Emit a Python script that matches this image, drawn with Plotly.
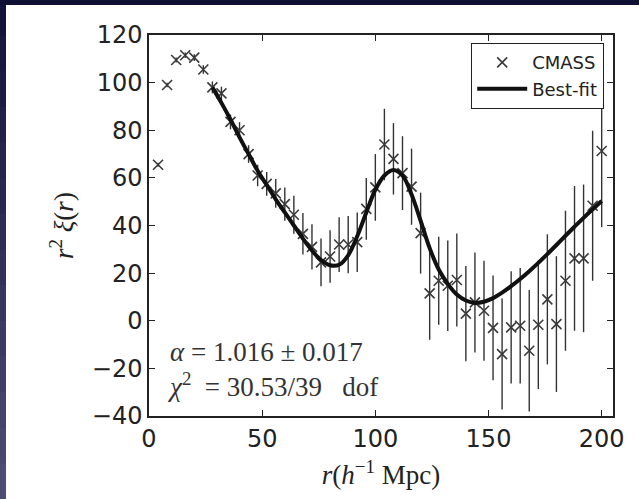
import plotly.graph_objects as go

# ---- data ----
r = [4, 8, 12, 16, 20, 24, 28, 32, 36, 40, 44, 48, 52, 56, 60, 64, 68, 72, 76, 80,
     84, 88, 92, 96, 100, 104, 108, 112, 116, 120, 124, 128, 132, 136, 140, 144, 148,
     152, 156, 160, 164, 168, 172, 176, 180, 184, 188, 192, 196, 200]
xi_r2 = [65.5, 99, 109.5, 111.5, 110.5, 105.5, 98, 95.5, 83.5, 80, 70, 61, 57.5, 53.5,
         49, 44.5, 36.5, 31, 24.5, 27, 32, 32, 33, 47, 56, 74, 68, 62, 56.3, 36.8,
         11.5, 16.8, 14.7, 17.1, 3, 7.7, 4.2, -3, -14, -2.8, -2.1, -12.6, -1.7, 9,
         -1.4, 16.8, 26.2, 26.2, 48.3, 71.3]
err = [0.8, 0.9, 1.0, 1.2, 1.4, 1.8, 2.5, 2.8, 3.1, 3.4, 3.7, 4.5, 5, 6, 7, 8, 8.7,
       9.5, 10, 11, 11.5, 12, 12.5, 13, 14, 15, 15, 15.5, 16, 17, 19.5, 18.5, 19,
       19.5, 20, 21, 21, 22, 23.3, 23.6, 24.3, 25.5, 27, 27.3, 28.5, 29.4, 30.4, 31,
       31.5, 32]

fit_r = [28, 32, 36, 40, 44, 48, 52, 56, 60, 64, 68, 72, 76, 80, 84, 88, 92, 96, 100,
         104, 108, 112, 116, 120, 124, 128, 132, 136, 140, 144, 148, 152, 156, 160,
         164, 168, 172, 176, 180, 184, 188, 192, 196, 200]
fit_y = [98, 91.5, 84.5, 77, 70, 63, 57, 51, 45.5, 40, 34.5, 29.5, 25.5, 23.3, 23.5,
         27.5, 35.5, 45.5, 55, 61, 63.3, 61, 53, 42, 30.5, 21.5, 15.5, 11, 8.5, 7.5,
         8, 9.5, 11.8, 14.5, 17.5, 20.8, 24.3, 28, 31.8, 35.7, 39.5, 43.2, 46.8, 50.3]

x_ticks = [0, 50, 100, 150, 200]
y_ticks = [-40, -20, 0, 20, 40, 60, 80, 100, 120]

annot_lines = ["<i>α</i> = 1.016 ± 0.017", "<i>χ</i><sup>2</sup>  = 30.53/39   dof"]

# ---- layout geometry ----
W, H = 639, 499
L, R, T, B = 149, 26, 35, 83
PW, PH = W - L - R, H - T - B


def px_x(px):
    return (px - L) / PW


def px_y(py):
    return (H - B - py) / PH


fig = go.Figure()

fig.add_trace(go.Scatter(
    x=r, y=xi_r2, mode="markers", name="CMASS",
    marker=dict(symbol="x-thin", size=10, color="#3a3a3a",
                line=dict(width=1.6, color="#3a3a3a")),
    error_y=dict(type="data", array=err, visible=True, width=0,
                 thickness=1.4, color="#333333"),
))
fig.add_trace(go.Scatter(
    x=fit_r, y=fit_y, mode="lines", name="Best-fit",
    line=dict(color="#111111", width=4, shape="spline", smoothing=1.0),
))

shapes = []
# dark slide borders (left gradient strip and top strip)
n = 14
c_top = (19, 19, 59)
c_bot = (76, 76, 116)
for i in range(n):
    f = i / (n - 1)
    c = tuple(int(c_top[k] + (c_bot[k] - c_top[k]) * f) for k in range(3))
    shapes.append(dict(type="rect", xref="paper", yref="paper",
                       x0=px_x(0), x1=px_x(6),
                       y0=px_y(H * (i + 1) / n + 1), y1=px_y(H * i / n),
                       fillcolor="rgb(%d,%d,%d)" % c, line=dict(width=0), layer="below"))
shapes.append(dict(type="rect", xref="paper", yref="paper",
                   x0=px_x(0), x1=px_x(W), y0=px_y(5), y1=px_y(0),
                   fillcolor="rgb(14,15,51)", line=dict(width=0), layer="below"))

annotations = [dict(text="<br>".join(annot_lines), xref="paper", yref="paper",
                    x=px_x(165), y=px_y(369), align="left",
                    xanchor="left", yanchor="middle", showarrow=False,
                    font=dict(family="Liberation Serif", size=27, color="#333333"))]

axis_common = dict(showline=True, linecolor="#222222", linewidth=1.5, mirror="ticks",
                   ticks="inside", ticklen=6, tickwidth=1.3, tickcolor="#222222",
                   showgrid=False, zeroline=False,
                   tickfont=dict(family="DejaVu Sans", size=24, color="#222222"))

fig.update_layout(
    width=W, height=H,
    margin=dict(l=L, r=R, t=T, b=B, autoexpand=False),
    paper_bgcolor="white", plot_bgcolor="white",
    showlegend=True,
    legend=dict(x=px_x(604), y=px_y(43), xanchor="right", yanchor="top",
                bgcolor="white", bordercolor="#222222", borderwidth=1.2,
                font=dict(family="DejaVu Sans", size=18, color="#222222"),
                itemwidth=50),
    xaxis=dict(range=[0, 205], tickvals=x_ticks, ticktext=[str(v) for v in x_ticks],
               title=dict(text="<i>r</i>(<i>h</i><sup>−1</sup> Mpc)", standoff=14,
                          font=dict(family="Liberation Serif", size=27, color="#222222")),
               **axis_common),
    yaxis=dict(range=[-40, 120], tickvals=y_ticks,
               ticktext=[("−%d" % -v) if v < 0 else str(v) for v in y_ticks],
               title=dict(text="<i>r</i><sup>2</sup> <i>ξ</i>(<i>r</i>)", standoff=10,
                          font=dict(family="Liberation Serif", size=27, color="#222222")),
               **axis_common),
    shapes=shapes,
    annotations=annotations,
)

fig.write_html("out.html")
